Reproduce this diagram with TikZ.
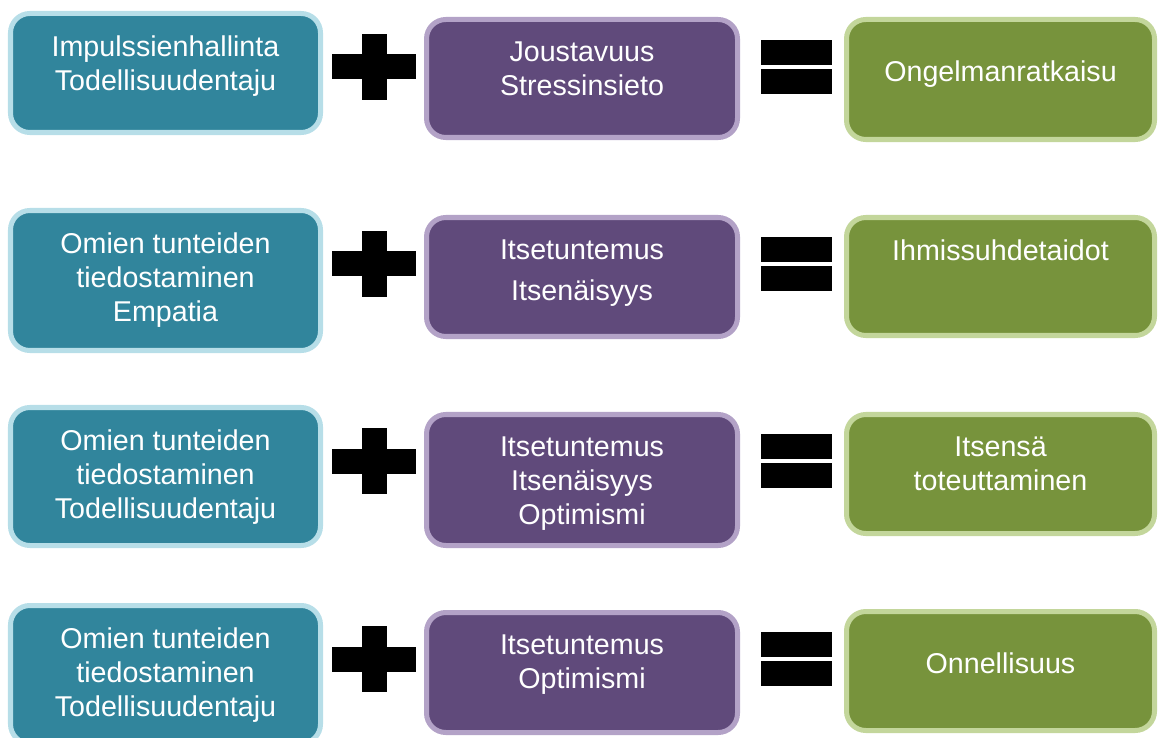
\documentclass[tikz,border=0pt]{standalone}
\usepackage{fontspec}
\setmainfont{Liberation Sans}
\usepackage{xcolor}
\definecolor{tealfill}{RGB}{49,133,156}
\definecolor{tealedge}{RGB}{183,222,232}
\definecolor{plumfill}{RGB}{96,74,123}
\definecolor{plumedge}{RGB}{179,162,199}
\definecolor{olivefill}{RGB}{119,147,60}
\definecolor{oliveedge}{RGB}{195,214,155}
\usepackage{tikz}
\usetikzlibrary{positioning}

\begin{document}
\begin{tikzpicture}[
    box/.style={rectangle, rounded corners=11pt, line width=2.85pt, inner sep=0pt},
    tealbox/.style={box, fill=tealfill, draw=tealedge, minimum width=6.2cm},
    plumbox/.style={box, fill=plumfill, draw=plumedge, minimum width=6.22cm},
    olivebox/.style={box, fill=olivefill, draw=oliveedge, minimum width=6.16cm},
    lbl/.style={text=white, align=center, inner sep=0pt, font=\fontsize{16.3pt}{19.3pt}\selectfont}
]
    \useasboundingbox (0,0) rectangle (23.16,-14.76);

    % left column
    \node[tealbox, minimum height=2.38cm] (t1) at (3.31,-1.46) {};
    \node[tealbox, minimum height=2.80cm] (t2) at (3.31,-5.61) {};
    \node[tealbox, minimum height=2.76cm] (t3) at (3.31,-9.53) {};
    \node[tealbox, minimum height=2.76cm] (t4) at (3.31,-13.49) {};

    % middle column
    \node[plumbox, minimum height=2.36cm] (p1) at (11.64,-1.57) {};
    \node[plumbox, minimum height=2.38cm] (p2) at (11.64,-5.54) {};
    \node[plumbox, minimum height=2.62cm] (p3) at (11.64,-9.60) {};
    \node[plumbox, minimum height=2.40cm] (p4) at (11.64,-13.45) {};

    % right column
    \node[olivebox, minimum height=2.40cm] (g1) at (20.01,-1.59) {};
    \node[olivebox, minimum height=2.36cm] (g2) at (20.01,-5.53) {};
    \node[olivebox, minimum height=2.38cm] (g3) at (20.01,-9.48) {};
    \node[olivebox, minimum height=2.38cm] (g4) at (20.01,-13.42) {};

    % texts
    \node[lbl, below=0.49cm of t1.north] (t1l) {Impulssienhallinta\\Todellisuudentaju};
    \node[lbl, below=0.49cm of t2.north] (t2l) {Omien tunteiden\\tiedostaminen\\Empatia};
    \node[lbl, below=0.49cm of t3.north] (t3l) {Omien tunteiden\\tiedostaminen\\Todellisuudentaju};
    \node[lbl, below=0.49cm of t4.north] (t4l) {Omien tunteiden\\tiedostaminen\\Todellisuudentaju};

    \node[lbl, below=0.49cm of p1.north] (p1l) {Joustavuus\\Stressinsieto};
    \node[lbl, below=0.49cm of p2.north] (p2l) {Itsetuntemus\\[4pt]Itsenäisyys};
    \node[lbl, below=0.49cm of p3.north] (p3l) {Itsetuntemus\\Itsenäisyys\\Optimismi};
    \node[lbl, below=0.49cm of p4.north] (p4l) {Itsetuntemus\\Optimismi};

    \node[lbl, anchor=base] (g1l) at ([yshift=-0.05cm]g1.center) {Ongelmanratkaisu};
    \node[lbl, below=0.49cm of g2.north] (g2l) {Ihmissuhdetaidot};
    \node[lbl, below=0.49cm of g3.north] (g3l) {Itsensä\\toteuttaminen};
    \node[lbl, anchor=base] (g4l) at ([yshift=-0.05cm]g4.center) {Onnellisuus};

    % plus and equals signs
    \foreach \y in {-1.34,-5.28,-9.22,-13.18} {
        \fill[black] (7.48-0.84,\y-0.25) rectangle (7.48+0.84,\y+0.25);
        \fill[black] (7.48-0.25,\y-0.66) rectangle (7.48+0.25,\y+0.66);
        \fill[black] (15.93-0.71,\y+0.04) rectangle (15.93+0.71,\y+0.54);
        \fill[black] (15.93-0.71,\y-0.04) rectangle (15.93+0.71,\y-0.54);
    }
\end{tikzpicture}
\end{document}
